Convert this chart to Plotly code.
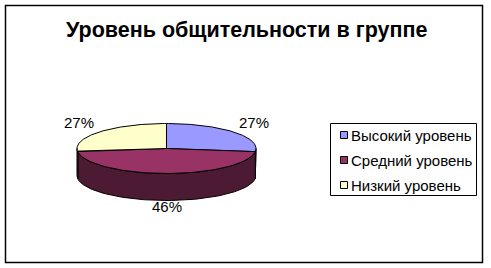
import numpy as np
import plotly.graph_objects as go

# Data
categories = ["Высокий уровень", "Средний уровень", "Низкий уровень"]
values = [27, 46, 27]
top_colors = ["#9999FF", "#993366", "#FFFFCC"]
side_colors = ["#4D4D80", "#4D1A33", "#80805F"]

title_text = "Уровень общительности в группе"

# Pie geometry (pixel space, y grows downward)
W, H = 491, 268
cx, cy = 166.5, 148.5
rx, ry = 89.5, 25.0
depth = 27.0
FONT = "Arial, Liberation Sans"


def ellipse_pts(a0, a1, dy=0.0, n=80):
    """Points on the projected rim between angles a0..a1 (degrees, clockwise from 12 o'clock)."""
    t = np.radians(np.linspace(a0, a1, n))
    return cx + rx * np.sin(t), cy - ry * np.cos(t) + dy


total = sum(values)
bounds = np.concatenate([[0.0], np.cumsum(values) / total * 360.0])

fig = go.Figure()

# Side walls: only the front half (90..270 degrees) is visible
for i in range(len(values)):
    a0, a1 = max(bounds[i], 90.0), min(bounds[i + 1], 270.0)
    if a1 <= a0:
        continue
    xt, yt = ellipse_pts(a0, a1)
    xb, yb = ellipse_pts(a1, a0, dy=depth)
    xs = np.concatenate([xt, xb, xt[:1]])
    ys = np.concatenate([yt, yb, yt[:1]])
    fig.add_trace(go.Scatter(x=xs, y=ys, mode="lines", fill="toself",
                             fillcolor=side_colors[i], line=dict(color="black", width=1),
                             hoverinfo="skip", showlegend=False))

# Top faces
for i in range(len(values)):
    xa, ya = ellipse_pts(bounds[i], bounds[i + 1])
    xs = np.concatenate([[cx], xa, [cx]])
    ys = np.concatenate([[cy], ya, [cy]])
    fig.add_trace(go.Scatter(x=xs, y=ys, mode="lines", fill="toself",
                             fillcolor=top_colors[i], line=dict(color="black", width=1),
                             hoverinfo="skip", showlegend=False))

# Percentage labels outside each slice
for i, v in enumerate(values):
    mid = np.radians((bounds[i] + bounds[i + 1]) / 2)
    c = np.cos(mid)
    lx = cx + rx * 1.3 * np.sin(mid)
    ly = cy - ry * 1.6 * c + (depth * 0.67 * (-c) if c < 0 else 0)
    fig.add_annotation(x=lx, y=ly, text=f"{round(v / total * 100)}%", showarrow=False,
                       font=dict(family=FONT, size=15, color="black"),
                       xanchor="center", yanchor="middle")

# Legend box with swatches and labels
leg_x0, leg_y0, leg_x1, leg_y1 = 330.5, 123.5, 476.5, 195.5
row_y0, row_step = 135, 25
fig.add_shape(type="rect", x0=leg_x0, y0=leg_y0, x1=leg_x1, y1=leg_y1,
              line=dict(color="black", width=1), fillcolor="white", layer="below")
rows_y = [row_y0 + k * row_step for k in range(len(categories))]
fig.add_trace(go.Scatter(x=[344] * len(categories), y=rows_y, mode="markers",
                         marker=dict(symbol="square", size=7, color=top_colors,
                                     line=dict(color="black", width=1)),
                         hoverinfo="skip", showlegend=False))
for name, yy in zip(categories, rows_y):
    fig.add_annotation(x=349, y=yy, text=name, showarrow=False,
                       font=dict(family=FONT, size=15, color="black"),
                       xanchor="left", yanchor="middle")

# Outer chart border
fig.add_shape(type="rect", x0=5.5, y0=5.5, x1=482.5, y1=262.5,
              line=dict(color="black", width=1.5), layer="below")

fig.add_annotation(x=246, y=30, text=f"<b>{title_text}</b>", showarrow=False,
                   font=dict(family=FONT, size=21.5, color="black"),
                   xanchor="center", yanchor="middle")

fig.update_layout(
    width=W, height=H,
    margin=dict(l=0, r=0, t=0, b=0),
    paper_bgcolor="white", plot_bgcolor="white",
    xaxis=dict(range=[0, W], visible=False, fixedrange=True),
    yaxis=dict(range=[H, 0], visible=False, fixedrange=True),
    showlegend=False,
)

fig.write_html("out.html")
